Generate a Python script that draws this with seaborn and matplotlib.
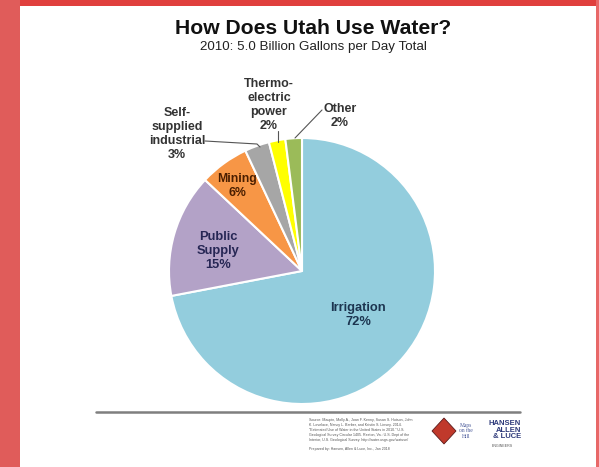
import matplotlib
matplotlib.use("Agg")
import matplotlib.pyplot as plt
import seaborn as sns
from matplotlib.patches import Rectangle, Polygon
from matplotlib.lines import Line2D

sns.set_theme(style="white")
plt.rcParams['font.family'] = ['Liberation Sans', 'DejaVu Sans']

# ---- data ----
categories = ["Irrigation", "Public Supply", "Mining", "Self-supplied industrial",
              "Thermoelectric power", "Other"]
values = [72, 15, 6, 3, 2, 2]
colors = ["#93CDDD", "#B3A2C7", "#F79646", "#A6A6A6", "#FFFF00", "#9BBB59"]
inner_labels = ["Irrigation\n72%", "Public\nSupply\n15%", "Mining\n6%"]
outer_labels = ["Self-\nsupplied\nindustrial\n3%", "Thermo-\nelectric\npower\n2%", "Other\n2%"]
title = "How Does Utah Use Water?"
subtitle = "2010: 5.0 Billion Gallons per Day Total"

W, H = 599, 467
fig = plt.figure(figsize=(W / 100, H / 100), dpi=100)
fig.patch.set_facecolor("white")

def fx(px):
    return px / W

def fy(py):
    return 1 - py / H

# frame decoration
fig.patches.append(Rectangle((0, 0), fx(20), 1, transform=fig.transFigure,
                             facecolor="#E05C5A", edgecolor="none", zorder=0))
fig.patches.append(Rectangle((fx(20), fy(6)), fx(577), fy(0) - fy(6), transform=fig.transFigure,
                             facecolor="#E03F3D", edgecolor="none", zorder=0))
fig.patches.append(Rectangle((fx(596), 0), fx(3), 1, transform=fig.transFigure,
                             facecolor="#E86868", edgecolor="none", zorder=0))

# titles
fig.text(fx(313), fy(29), title, ha="center", va="center", fontsize=15.2,
         fontweight="bold", color="#111111")
fig.text(fx(313), fy(47), subtitle, ha="center", va="center", fontsize=9.6,
         color="#222222")

# pie axes: circle centre (302, 271), radius 133 px
cx, cy, r = 302, 271, 133
ax = fig.add_axes([fx(cx - r), fy(cy + r), (2 * r) / W, (2 * r) / H])
wedges, _ = ax.pie(values, colors=colors, startangle=90, counterclock=False,
                   radius=1.0, wedgeprops=dict(edgecolor="white", linewidth=1.5))
ax.set_xlim(-1, 1)
ax.set_ylim(-1, 1)
ax.set_aspect("equal")
ax.axis("off")

def d(px, py):
    return (px - cx) / r, (cy - py) / r

# inner labels
x, y = d(358, 315)
ax.text(x, y, inner_labels[0], ha="center", va="center", fontsize=9.3,
        fontweight="bold", color="#1C3550", linespacing=1.25)
x, y = d(218, 251)
ax.text(x, y, inner_labels[1], ha="center", va="center", fontsize=9.3,
        fontweight="bold", color="#262654", linespacing=1.25)
x, y = d(237, 186)
ax.text(x, y, inner_labels[2], ha="center", va="center", fontsize=8.8,
        fontweight="bold", color="#4A1E00", linespacing=1.25)

# outer labels
lbl_kw = dict(ha="center", va="center", fontsize=9, fontweight="bold",
              color="#333333", linespacing=1.22, clip_on=False)
x, y = d(177, 134)
ax.text(x, y, outer_labels[0], **lbl_kw)
x, y = d(269, 105)
ax.text(x, y, outer_labels[1], **lbl_kw)
x, y = d(340, 116)
ax.text(x, y, outer_labels[2], **lbl_kw)

# leader lines
for pts in ([(205, 141), (257, 144), (260, 147)],
            [(278, 131), (278, 142)],
            [(322, 110), (295, 138)]):
    xs = [d(p[0], p[1])[0] for p in pts]
    ys = [d(p[0], p[1])[1] for p in pts]
    ax.add_line(Line2D(xs, ys, color="#555555", linewidth=0.8, clip_on=False))

# footer rule
fig.lines.append(Line2D([fx(96), fx(520)], [fy(412), fy(412)], transform=fig.transFigure,
                        color="#7F7F7F", linewidth=1.8))

# footer source text (tiny)
src = ("Source: Maupin, Molly A., Joan F. Kenny, Susan S. Hutson, John\n"
       "K. Lovelace, Nancy L. Barber, and Kristin S. Linsey. 2014.\n"
       "\"Estimated Use of Water in the United States in 2010.\" U.S.\n"
       "Geological Survey Circular 1405. Reston, Va.: U.S. Dept of the\n"
       "Interior, U.S. Geological Survey. http://water.usgs.gov/watuse/")
fig.text(fx(309), fy(418), src, ha="left", va="top", fontsize=2.6,
         color="#555555", linespacing=1.3)
fig.text(fx(309), fy(449), "Prepared by: Hansen, Allen & Luce, Inc., Jan 2018",
         ha="left", va="center", fontsize=2.6, color="#555555")

# logos (approximate)
fig.patches.append(Polygon([(fx(444), fy(418)), (fx(456), fy(431)), (fx(444), fy(444)),
                            (fx(432), fy(431))], closed=True, transform=fig.transFigure,
                           facecolor="#C0392B", edgecolor="#5A1A1A", linewidth=0.6))
fig.text(fx(466), fy(431), "Maps\non the\nHill", ha="center", va="center",
         fontsize=4, color="#4A5A9A", family="Liberation Serif", linespacing=1.0)
fig.text(fx(521), fy(430), "HANSEN\nALLEN\n& LUCE", ha="right", va="center",
         fontsize=5.5, fontweight="bold", color="#2E3A7A", linespacing=0.95)
fig.text(fx(502), fy(446), "ENGINEERS", ha="center", va="center",
         fontsize=2.6, color="#555555")

fig.savefig("out.png", dpi=100, facecolor="white")
